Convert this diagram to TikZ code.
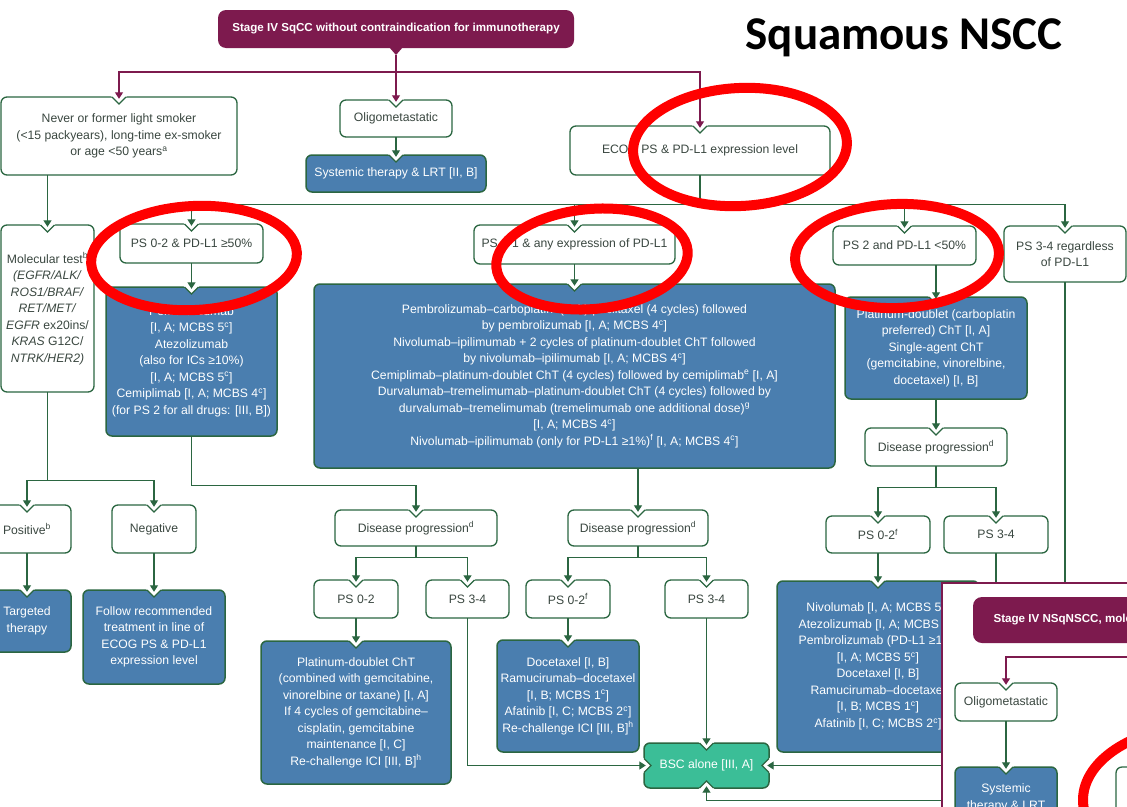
\documentclass[tikz,border=0pt]{standalone}
\usepackage{fontspec}
\setmainfont{Liberation Sans}
\newfontfamily\headfont{Carlito}
\usetikzlibrary{arrows.meta,calc}

\definecolor{mag}{HTML}{7D1A4E}
\definecolor{grn}{HTML}{2B6641}
\definecolor{blu}{HTML}{4A7EAF}
\definecolor{txt}{HTML}{3A4740}
\definecolor{bscg}{HTML}{3BBE97}
\definecolor{redmk}{HTML}{FF0000}

\newcommand\flowfont{\fontsize{12.2}{16.5}\selectfont}
\newcommand\sps[1]{\textsuperscript{#1}}

\tikzset{
  wbox/.style={fill=white, draw=grn, line width=1.3pt, rounded corners=6pt},
  bbox/.style={fill=blu, draw=grn, line width=1.5pt, rounded corners=6pt},
  gbox/.style={fill=bscg, draw=grn, line width=1.5pt, rounded corners=6pt},
  notchline/.style={draw=grn, line width=1.3pt, line join=miter},
  wbox text/.style={inner sep=0pt, align=center, text=txt, font=\flowfont},
  bbox text/.style={inner sep=0pt, align=center, text=white, font=\flowfont},
  conn/.style={draw=grn, line width=1.3pt},
  arr/.style={conn, -{Triangle[width=8pt,length=6.5pt]}, shorten >=-2pt},
  marr/.style={draw=mag, line width=1.3pt, -{Triangle[width=8pt,length=6.5pt]}, shorten >=-2pt},
  mline/.style={draw=mag, line width=1.3pt},
  ring/.style={draw=redmk, line width=10pt},
  headtext/.style={font=\bfseries\fontsize{11.6}{13}\selectfont, text=white},
}

% rounded box with an inward notch at the top centre, plus a named text node
\newcommand\flowbox[7]{%
  \pgfmathsetmacro\fbw{#4-(#2)}%
  \pgfmathsetmacro\fbh{#5-(#3)}%
  \pgfmathsetmacro\fbx{(#2+#4)/2}%
  \pgfmathsetmacro\fby{(#3+#5)/2}%
  \path[#6] (#2,#3) rectangle (#4,#5);%
  \fill[white] (\fbx-8,#3-1.2) -- (\fbx+8,#3-1.2) -- (\fbx,#3+6.8) -- cycle;%
  \draw[notchline] (\fbx-7,#3) -- (\fbx,#3+7) -- (\fbx+7,#3);%
  \node[#6 text, minimum width=\fbw pt, minimum height=\fbh pt] (#1) at (\fbx,\fby) {#7};%
}

\begin{document}
\begin{tikzpicture}[x=1pt,y=-1pt]
\useasboundingbox (0,0) rectangle (1127,806);
\clip (0,0) rectangle (1127,806);
\fill[white] (0,0) rectangle (1127,806);

% heading
\fill[mag, rounded corners=8pt] (218,10) rectangle (574,48);
\fill[mag] (389,47) -- (403,47) -- (396,55) -- cycle;
\node[headtext] (title) at (396,29)
  {Stage IV SqCC without contraindication for immunotherapy};
\coordinate (tp) at (396,55);

\node[font=\headfont\bfseries\fontsize{47}{50}\selectfont] (sqhead) at (904,38) {Squamous NSCC};

% first level
\flowbox{smoker}{1}{97}{237}{175}{wbox}{Never or former light smoker\\(<15 packyears), long-time ex-smoker\\or age <50 years\sps{a}}
\flowbox{oligo}{340}{100}{452}{137}{wbox}{Oligometastatic}
\flowbox{systemic}{306}{155}{486}{192}{bbox}{Systemic therapy \& LRT [II, B]}
\flowbox{ecog}{570}{126}{830}{175}{wbox}{ECOG PS \& PD-L1 expression level}

% molecular branch
\flowbox{moltest}{1}{225}{94}{392}{wbox}{Molecular test\sps{b}\\\textit{(EGFR/ALK/}\\\textit{ROS1/BRAF/}\\\textit{RET/MET/}\\\textit{EGFR} ex20ins/\\\textit{KRAS} G12C/\\\textit{NTRK/HER2)}}
\flowbox{pos}{-17}{505}{71}{553}{wbox}{Positive\sps{b}}
\flowbox{neg}{112}{505}{196}{553}{wbox}{Negative}
\flowbox{targ}{-17}{590}{71}{652}{bbox}{Targeted\\therapy}
\flowbox{follow}{83}{590}{225}{684}{bbox}{Follow recommended\\treatment in line of\\ECOG PS \& PD-L1\\expression level}

% PS / PD-L1 branches
\flowbox{psA}{120}{224}{263}{263}{wbox}{PS 0-2 \& PD-L1 ≥50\%}
\flowbox{pembro}{106}{287}{277}{436}{bbox}{Pembrolizumab\\{}[I, A; MCBS 5\sps{c}]\\Atezolizumab\\(also for ICs ≥10\%)\\{}[I, A; MCBS 5\sps{c}]\\Cemiplimab [I, A; MCBS 4\sps{c}]\\(for PS 2 for all drugs: [III, B])}
\flowbox{psB}{474}{225}{675}{264}{wbox}{PS 0-1 \& any expression of PD-L1}
\flowbox{big}{314}{284}{835}{468}{bbox}{Pembrolizumab--carboplatin--(nab)-paclitaxel (4 cycles) followed\\by pembrolizumab [I, A; MCBS 4\sps{c}]\\Nivolumab--ipilimumab + 2 cycles of platinum-doublet ChT followed\\by nivolumab--ipilimumab [I, A; MCBS 4\sps{c}]\\Cemiplimab--platinum-doublet ChT (4 cycles) followed by cemiplimab\sps{e} [I, A]\\Durvalumab--tremelimumab--platinum-doublet ChT (4 cycles) followed by\\durvalumab--tremelimumab (tremelimumab one additional dose)\sps{g}\\{}[I, A; MCBS 4\sps{c}]\\Nivolumab--ipilimumab (only for PD-L1 ≥1\%)\sps{f} [I, A; MCBS 4\sps{c}]}
\flowbox{psC}{833}{226}{976}{265}{wbox}{PS 2 and PD-L1 <50\%}
\flowbox{psD}{1004}{226}{1126}{282}{wbox}{PS 3-4 regardless\\of PD-L1}
\flowbox{plat}{845}{297}{1027}{399}{bbox}{Platinum-doublet (carboplatin\\preferred) ChT [I, A]\\Single-agent ChT\\(gemcitabine, vinorelbine,\\docetaxel) [I, B]}

% progression, right
\flowbox{dp3}{865}{428}{1007}{466}{wbox}{Disease progression\sps{d}}
\flowbox{psE}{826}{516}{930}{553}{wbox}{PS 0-2\sps{f}}
\flowbox{psF}{944}{516}{1048}{553}{wbox}{PS 3-4}
\flowbox{nivo}{777}{581}{979}{752}{bbox}{Nivolumab [I, A; MCBS 5\sps{c}]\\Atezolizumab [I, A; MCBS 5\sps{c}]\\Pembrolizumab (PD-L1 ≥1\%)\\{}[I, A; MCBS 5\sps{c}]\\Docetaxel [I, B]\\Ramucirumab--docetaxel\\{}[I, B; MCBS 1\sps{c}]\\Afatinib [I, C; MCBS 2\sps{c}]}

% progression, left
\flowbox{dp1}{335}{510}{497}{546}{wbox}{Disease progression\sps{d}}
\flowbox{psG}{314}{580}{398}{618}{wbox}{PS 0-2}
\flowbox{psH}{426}{580}{509}{618}{wbox}{PS 3-4}
\flowbox{platct}{261}{641}{451}{784}{bbox}{Platinum-doublet ChT\\(combined with gemcitabine,\\vinorelbine or taxane) [I, A]\\If 4 cycles of gemcitabine--\\cisplatin, gemcitabine\\maintenance [I, C]\\Re-challenge ICI [III, B]\sps{h}}

% progression, middle
\flowbox{dp2}{568}{510}{708}{546}{wbox}{Disease progression\sps{d}}
\flowbox{psI}{526}{580}{610}{618}{wbox}{PS 0-2\sps{f}}
\flowbox{psJ}{665}{580}{748}{618}{wbox}{PS 3-4}
\flowbox{doce}{497}{640}{639}{752}{bbox}{Docetaxel [I, B]\\Ramucirumab--docetaxel\\{}[I, B; MCBS 1\sps{c}]\\Afatinib [I, C; MCBS 2\sps{c}]\\Re-challenge ICI [III, B]\sps{h}}

% best supportive care box, notched on all four sides
\path[gbox] (644,743) rectangle (769,788);
\fill[white] (698.5,741.8) -- (714.5,741.8) -- (706.5,749.8) -- cycle;
\draw[notchline] (699.5,743) -- (706.5,750) -- (713.5,743);
\fill[white] (698.5,789.2) -- (714.5,789.2) -- (706.5,781.2) -- cycle;
\draw[notchline] (699.5,788) -- (706.5,781) -- (713.5,788);
\fill[white] (642.8,757.5) -- (642.8,773.5) -- (650.8,765.5) -- cycle;
\draw[notchline] (644,758.5) -- (651,765.5) -- (644,772.5);
\fill[white] (770.2,757.5) -- (770.2,773.5) -- (762.2,765.5) -- cycle;
\draw[notchline] (769,758.5) -- (762,765.5) -- (769,772.5);
\node[bbox text, minimum width=125pt, minimum height=45pt] (bsc) at (706.5,765.5) {BSC alone [III, A]};

% connectors
\draw[mline] (tp) -- ++(0,17);
\draw[marr] (tp) -- ++(0,17) -| (smoker.north);
\draw[marr] (tp) -- (oligo.north);
\draw[marr] (tp) -- ++(0,17) -| (ecog.north);
\draw[arr] (oligo.south) -- (systemic.north);
\draw[arr] (smoker.south -| moltest.north) -- (moltest.north);
\draw[arr] (ecog.south) -- ++(0,29) -| (psA.north);
\draw[arr] (ecog.south) -- ++(0,29) -| (psB.north);
\draw[arr] (ecog.south) -- ++(0,29) -| (psC.north);
\draw[arr] (ecog.south) -- ++(0,29) -| (psD.north);
\draw[arr] (psA.south) -- (pembro.north);
\draw[arr] (psB.south) -- (big.north);
\draw[arr] (psC.south -| plat.north) -- (plat.north);
\draw[arr] (plat.south) -- (dp3.north);
\draw[arr] (dp3.south) -- ++(0,21) -| (psE.north);
\draw[arr] (dp3.south) -- ++(0,21) -| (psF.north);
\draw[arr] (psE.south) -- (nivo.north);
\draw[arr] (psF.south) |- (bsc.east);
\draw[arr] (psD.south) -- ++(0,518) -| (bsc.south);
\draw[arr] (pembro.south) -- ++(0,49) -| (dp1.north);
\draw[arr] (dp1.south) -- ++(0,11) -| (psG.north);
\draw[arr] (dp1.south) -- ++(0,11) -| (psH.north);
\draw[arr] (psG.south) -- (platct.north);
\draw[arr] (psH.south) |- (bsc.west);
\draw[arr] (dp2.north |- big.south) -- (dp2.north);
\draw[arr] (dp2.south) -- ++(0,11) -| (psI.north);
\draw[arr] (dp2.south) -- ++(0,11) -| (psJ.north);
\draw[arr] (psI.south) -- (doce.north);
\draw[arr] (psJ.south) -- (bsc.north);
\draw[arr] (moltest.south) -- ++(0,88) -| (pos.north);
\draw[arr] (moltest.south) -- ++(0,88) -| (neg.north);
\draw[arr] (pos.south) -- (targ.north);
\draw[arr] (neg.south) -- (follow.north);

% red highlight rings
\draw[ring, rotate around={3:(740,147)}] (740,147) ellipse [x radius=107, y radius=59];
\draw[ring, rotate around={3:(194,258)}] (194,258) ellipse [x radius=103, y radius=52];
\draw[ring, rotate around={5:(592,259)}] (592,259) ellipse [x radius=96, y radius=50];
\draw[ring, rotate around={2:(897,256)}] (897,256) ellipse [x radius=102, y radius=52];

% overlapping second chart
\fill[white] (942,583) rectangle (1140,830);
\draw[mline] (942,830) -- (942,583) -- (1140,583);
\fill[mag, rounded corners=9pt] (973,597) rectangle (1260,643);
\node[anchor=west, headtext] (ititle) at (990,620)
  {Stage IV NSqNSCC, molecular tests negative};
\coordinate (iin) at (1140,657);
\flowbox{ioligo}{955}{683}{1057}{721}{wbox}{Oligometastatic}
\flowbox{isys}{955}{767}{1057}{829}{bbox}{Systemic\\therapy \& LRT}
\draw[marr] (iin) -| (ioligo.north);
\draw[arr] (ioligo.south) -- (isys.north);
\path[wbox] (1116,767) rectangle (1220,860);
\draw[ring] (1206,800) ellipse [x radius=123, y radius=75];
\end{tikzpicture}
\end{document}
